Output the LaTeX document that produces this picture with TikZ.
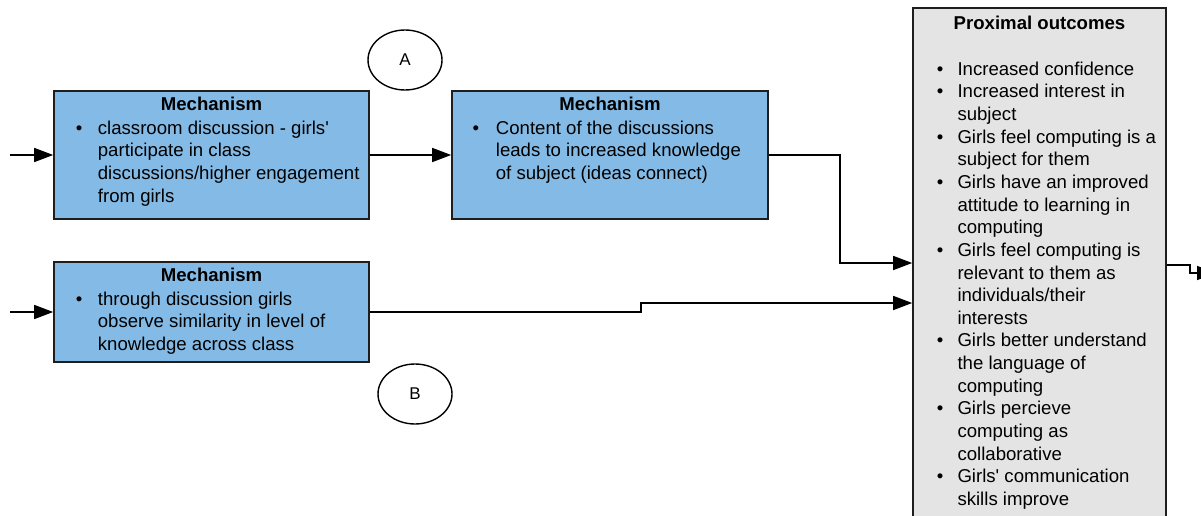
\documentclass[tikz,border=0pt]{standalone}
\usepackage{fontspec}
\setmainfont{Liberation Sans}[Ligatures=TeXOff]
\usetikzlibrary{arrows.meta,shapes.geometric}
\definecolor{mechblue}{HTML}{84BBE6}
\definecolor{outgray}{HTML}{E4E4E4}
\definecolor{edgecol}{HTML}{1E1E1E}
\newcommand\bodyfont{\fontsize{18.6}{22.65}\selectfont}
\begin{document}
\begin{tikzpicture}[x=1pt,y=-1pt,
  mech/.style={draw=edgecol, line width=1.6pt, fill=mechblue, inner sep=0pt},
  outbox/.style={draw=edgecol, line width=1.6pt, fill=outgray, inner sep=0pt},
  titletext/.style={anchor=base, inner sep=0pt, font=\bodyfont\bfseries},
  bodytext/.style={anchor=north west, inner sep=0pt, font=\bodyfont},
  oval/.style={ellipse, draw=black, line width=1.4pt, inner sep=0pt, minimum width=74pt, minimum height=60pt, font=\fontsize{17}{20}\selectfont},
  conn/.style={draw=black, line width=1.5pt},
  arr/.style={conn, -{Triangle[length=19pt,width=14pt]}}]
\useasboundingbox (0,0) rectangle (1201,516);
\clip (0,0) rectangle (1201,516);
\fill[white] (0,0) rectangle (1201,516);

% boxes
\node[mech, minimum width=315pt, minimum height=128pt] (m1) at (211.5,155) {};
\node[mech, minimum width=316pt, minimum height=128pt] (m2) at (610,155) {};
\node[mech, minimum width=315pt, minimum height=100pt] (m3) at (211.5,312) {};
\node[outbox, minimum width=253pt, minimum height=522pt] (P) at (1039.5,269) {};

% texts
\node[titletext] (t1) at (211.5,111) {Mechanism};
\node[bodytext] (b1) at (75.7,118.1) {\begin{tabular}{@{}p{22pt}@{}l@{}}
\textbullet & classroom discussion - girls'\\
 & participate in class\\
 & discussions/higher engagement\\
 & from girls\end{tabular}};

\node[titletext] (t2) at (610,111) {Mechanism};
\node[bodytext] (b2) at (472.4,118.1) {\begin{tabular}{@{}p{23.3pt}@{}l@{}}
\textbullet & Content of the discussions\\
 & leads to increased knowledge\\
 & of subject (ideas connect)\end{tabular}};

\node[titletext] (t3) at (211.5,281.7) {Mechanism};
\node[bodytext] (b3) at (75.7,289.1) {\begin{tabular}{@{}p{22pt}@{}l@{}}
\textbullet & through discussion girls\\
 & observe similarity in level of\\
 & knowledge across class\end{tabular}};

\node[titletext] (tp) at (1039.5,29.3) {Proximal outcomes};
\node[bodytext] (bp) at (936.7,59.1) {\begin{tabular}{@{}p{20.6pt}@{}l@{}}
\textbullet & Increased confidence\\
\textbullet & Increased interest in\\
 & subject\\
\textbullet & Girls feel computing is a\\
 & subject for them\\
\textbullet & Girls have an improved\\
 & attitude to learning in\\
 & computing\\
\textbullet & Girls feel computing is\\
 & relevant to them as\\
 & individuals/their\\
 & interests\\
\textbullet & Girls better understand\\
 & the language of\\
 & computing\\
\textbullet & Girls percieve\\
 & computing as\\
 & collaborative\\
\textbullet & Girls' communication\\
 & skills improve\end{tabular}};

% ovals
\node[oval] (A) at (405,60) {A};
\node[oval] (B) at (415,394) {B};

% connectors
\coordinate (in1) at (10,155);
\coordinate (in3) at (10,312);
\coordinate (j1a) at (840,155);
\coordinate (j1b) at (840,263);
\coordinate (j2a) at (641,312);
\coordinate (j2b) at (641,303);
\coordinate (o1) at (1190,265);
\coordinate (o2) at (1190,273);
\coordinate (out) at (1216,273);

\draw[arr] (in1) -- (m1.west);
\draw[arr] (in3) -- (m3.west);
\draw[arr] (m1.east) -- (m2.west);
\draw[arr] (m2.east) -- (j1a) -- (j1b) -- (P.west |- j1b);
\draw[arr] (m3.east) -- (j2a) -- (j2b) -- (P.west |- j2b);
\draw[arr] (P.east |- o1) -- (o1) -- (o2) -- (out);
\end{tikzpicture}
\end{document}
